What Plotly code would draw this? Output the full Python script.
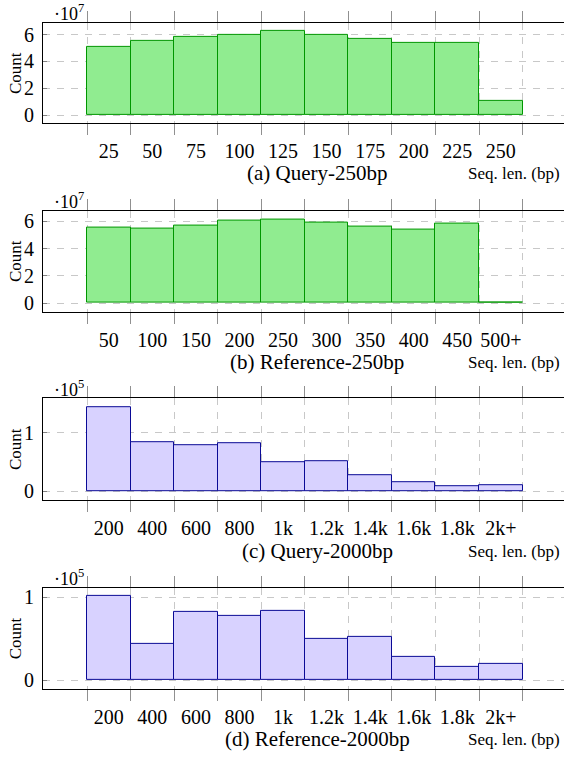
import plotly.graph_objects as go

# ---------------- data ----------------
query250_labels = ["25", "50", "75", "100", "125", "150", "175", "200", "225", "250"]
query250_counts = [50.7e6, 55.1e6, 58.0e6, 59.5e6, 62.5e6, 60.0e6, 57.0e6, 53.8e6, 53.8e6, 10.9e6]

ref250_labels = ["50", "100", "150", "200", "250", "300", "350", "400", "450", "500+"]
ref250_counts = [55.6e6, 54.6e6, 57.3e6, 60.3e6, 61.7e6, 59.5e6, 56.6e6, 54.4e6, 58.5e6, 0.2e6]

len2000_labels = ["200", "400", "600", "800", "1k", "1.2k", "1.4k", "1.6k", "1.8k", "2k+"]
query2000_counts = [143500, 83600, 78000, 82500, 49700, 52000, 27700, 15800, 9600, 10700]
ref2000_counts = [101700, 44000, 82400, 77600, 83600, 50400, 52000, 28400, 16000, 19600]

captions = ["(a) Query-250bp", "(b) Reference-250bp", "(c) Query-2000bp", "(d) Reference-2000bp"]
xlabel = "Seq. len. (bp)"
ylabel = "Count"

# ---------------- layout helpers ----------------
W, H = 564, 757
FONT = "Liberation Serif"
GREEN_FILL, GREEN_LINE = "rgb(144,236,144)", "rgb(0,150,0)"
BLUE_FILL, BLUE_LINE = "rgb(216,210,255)", "rgb(10,10,150)"

panels = [
    dict(labels=query250_labels, counts=query250_counts, exp=7, fill=GREEN_FILL, line=GREEN_LINE,
         yr=[-0.61, 6.87], dtick=2, top=22, bot=123, cap_y=173, exp_y=12),
    dict(labels=ref250_labels, counts=ref250_counts, exp=7, fill=GREEN_FILL, line=GREEN_LINE,
         yr=[-0.63, 6.80], dtick=2, top=210.7, bot=312.3, cap_y=363, exp_y=201),
    dict(labels=len2000_labels, counts=query2000_counts, exp=5, fill=BLUE_FILL, line=BLUE_LINE,
         yr=[-0.147, 1.588], dtick=1, top=399.3, bot=501.7, cap_y=553, exp_y=390),
    dict(labels=len2000_labels, counts=ref2000_counts, exp=5, fill=BLUE_FILL, line=BLUE_LINE,
         yr=[-0.10, 1.116], dtick=1, top=590, bot=691.3, cap_y=742, exp_y=580),
]

fig = go.Figure()
XL = 43 / W
XR = [-1.01, 10.95]
annotations = []

for i, p in enumerate(panels):
    n = len(p["labels"])
    scale = 10 ** p["exp"]
    xm = "x" if i == 0 else f"x{2*i+1}"
    xo = f"x{2*i+2}"
    ya = "y" if i == 0 else f"y{i+1}"
    xm_key = "xaxis" if i == 0 else f"xaxis{2*i+1}"
    xo_key = f"xaxis{2*i+2}"
    ya_key = "yaxis" if i == 0 else f"yaxis{i+1}"

    fig.add_trace(go.Bar(
        x=[k + 0.5 for k in range(n)],
        y=[c / scale for c in p["counts"]],
        width=[1] * n,
        marker=dict(color=p["fill"], line=dict(color=p["line"], width=1)),
        xaxis=xm, yaxis=ya, showlegend=False, hoverinfo="skip",
    ))
    # invisible trace on overlay axis to activate it
    fig.add_trace(go.Scatter(x=[None], y=[None], xaxis=xo, yaxis=ya, showlegend=False))

    dom = [1 - p["bot"] / H, 1 - p["top"] / H]
    fig.layout[ya_key] = dict(
        domain=dom, anchor=xm, range=p["yr"], dtick=p["dtick"], tick0=0,
        showline=True, linecolor="black", linewidth=1,
        ticks="inside", ticklen=4, tickcolor="#808080",
        showgrid=True, gridcolor="#c8c8c8", griddash="7px,7px", gridwidth=1,
        zeroline=False, tickfont=dict(family=FONT, size=20, color="black"),
        ticklabelstandoff=4,
    )
    fig.layout[xm_key] = dict(
        domain=[XL, 1], anchor=ya, range=XR,
        tickmode="array", tickvals=list(range(n + 1)), showticklabels=False,
        ticks="outside", ticklen=11, tickcolor="#909090",
        showline=True, linecolor="black", linewidth=1, mirror="allticks",
        showgrid=True, gridcolor="#c8c8c8", griddash="7px,7px", gridwidth=1,
        zeroline=False,
    )
    fig.layout[xo_key] = dict(
        domain=[XL, 1], anchor=ya, overlaying=xm, range=XR, side="bottom",
        tickmode="array", tickvals=[k + 0.5 for k in range(n)], ticktext=p["labels"],
        ticks="outside", ticklen=10, tickcolor="rgba(0,0,0,0)",
        showgrid=False, zeroline=False, showline=False,
        tickfont=dict(family=FONT, size=20, color="black"),
    )

    annotations.append(dict(text=f"·10<sup>{p['exp']}</sup>", x=52 / W, y=1 - p["exp_y"] / H,
                            xref="paper", yref="paper", xanchor="left", yanchor="middle",
                            showarrow=False, font=dict(family=FONT, size=18, color="black")))
    annotations.append(dict(text=ylabel, x=15 / W, y=1 - (p["top"] + p["bot"]) / 2 / H,
                            xref="paper", yref="paper", xanchor="center", yanchor="middle",
                            textangle=-90, showarrow=False,
                            font=dict(family=FONT, size=17, color="black")))
    annotations.append(dict(text=captions[i], x=317 / W, y=1 - p["cap_y"] / H,
                            xref="paper", yref="paper", xanchor="center", yanchor="middle",
                            showarrow=False, font=dict(family=FONT, size=21, color="black")))
    annotations.append(dict(text=xlabel, x=562 / W, y=1 - p["cap_y"] / H,
                            xref="paper", yref="paper", xanchor="right", yanchor="middle",
                            showarrow=False, font=dict(family=FONT, size=17, color="black")))

fig.update_layout(
    width=W, height=H, margin=dict(l=0, r=0, t=0, b=0),
    paper_bgcolor="white", plot_bgcolor="white",
    annotations=annotations, bargap=0,
)

fig.write_html("out.html")
